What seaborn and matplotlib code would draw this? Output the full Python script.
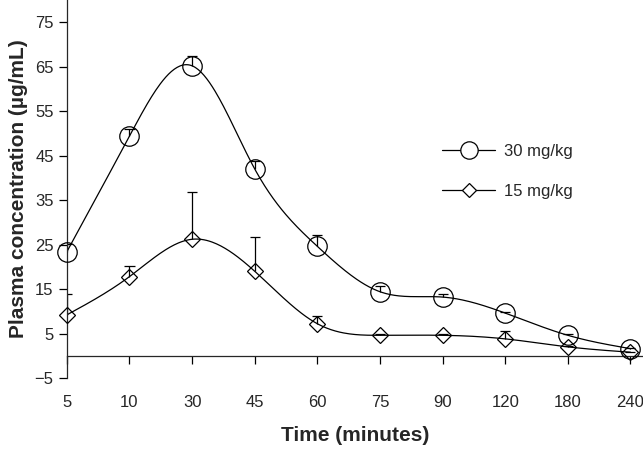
import numpy as np
import pandas as pd
import matplotlib
matplotlib.use('Agg')
import matplotlib.pyplot as plt
import seaborn as sns
from matplotlib.lines import Line2D

sns.set_style('ticks')
plt.rcParams['font.family'] = ['Liberation Sans', 'DejaVu Sans']

# data
times = ['5', '10', '30', '45', '60', '75', '90', '120', '180', '240']
high_mean = [23.4, 49.4, 65.2, 42.0, 24.6, 14.4, 13.2, 9.6, 4.6, 1.6]
high_err = [1.8, 1.6, 2.3, 1.7, 2.5, 1.4, 0.6, 0.3, 0.2, 0.1]
low_mean = [9.2, 17.8, 26.2, 19.0, 7.2, 4.6, 4.6, 3.8, 2.0, 0.8]
low_err = [4.7, 2.4, 10.6, 7.6, 1.8, 0.2, 0.2, 1.8, 0.1, 0.1]

df = pd.DataFrame({'time': times, 'high': high_mean, 'high_err': high_err,
                   'low': low_mean, 'low_err': low_err})
df['pos'] = np.arange(len(df))


def spline(x, y, n=400):
    # natural cubic spline, just for the smooth curve
    x = np.asarray(x, float); y = np.asarray(y, float)
    k = len(x); h = np.diff(x)
    A = np.zeros((k, k)); b = np.zeros(k)
    A[0, 0] = A[-1, -1] = 1
    for i in range(1, k - 1):
        A[i, i-1] = h[i-1]; A[i, i] = 2*(h[i-1]+h[i]); A[i, i+1] = h[i]
        b[i] = 6*((y[i+1]-y[i])/h[i] - (y[i]-y[i-1])/h[i-1])
    M = np.linalg.solve(A, b)
    xs = np.linspace(x[0], x[-1], n)
    j = np.clip(np.searchsorted(x, xs) - 1, 0, k - 2)
    t0 = x[j+1] - xs; t1 = xs - x[j]
    ys = (M[j]*t0**3 + M[j+1]*t1**3)/(6*h[j]) + (y[j]/h[j] - M[j]*h[j]/6)*t0 \
        + (y[j+1]/h[j] - M[j+1]*h[j]/6)*t1
    return xs, ys


fig = plt.figure(figsize=(6.43, 4.5), dpi=100)
ax = fig.add_axes([0.104, 0.16, 0.896, 0.84])

for col, mk, ms in [('high', 'o', 14), ('low', 'D', 8)]:
    xs, ys = spline(df.pos, df[col])
    sns.lineplot(x=xs, y=ys, ax=ax, color='black', lw=0.9, sort=False)
    # upper error bars only
    top = df[col] + df[col + '_err']
    ax.vlines(df.pos, df[col], top, color='black', lw=0.9)
    ax.hlines(top, df.pos - 0.08, df.pos + 0.08, color='black', lw=0.9)
    ax.plot(df.pos, df[col], ls='none', marker=mk, ms=ms, mfc='none',
            mec='black', mew=0.9, clip_on=False, zorder=5)

ax.set_xlim(0, 9.2)
ax.set_ylim(-5, 80)
ax.set_yticks(np.arange(-5, 76, 10))
ax.set_xticks(df.pos)
ax.set_xticklabels(df.time)
ax.spines['right'].set_visible(False)
ax.spines['top'].set_visible(False)
ax.spines['bottom'].set_position(('data', 0))
ax.tick_params(axis='both', labelsize=12, direction='out', length=6, width=0.9, color='black')
ax.tick_params(axis='x', pad=22)
for s in ax.spines.values():
    s.set_linewidth(0.9)
ax.set_xlabel('Time (minutes)', fontsize=15, fontweight='bold', labelpad=12)
ax.set_ylabel('Plasma concentration (µg/mL)', fontsize=15, fontweight='bold', labelpad=5)

handles = [Line2D([], [], color='black', lw=0.9, marker='o', ms=12.5, mfc='white', mec='black', mew=0.9),
           Line2D([], [], color='black', lw=0.9, marker='D', ms=7.5, mfc='white', mec='black', mew=0.9)]
ax.legend(handles, ['30 mg/kg', '15 mg/kg'], frameon=False, fontsize=12,
          loc='upper left', bbox_to_anchor=(0.625, 0.658), handlelength=3.2,
          labelspacing=1.5, handletextpad=0.5)

fig.savefig('out.png', dpi=100)
